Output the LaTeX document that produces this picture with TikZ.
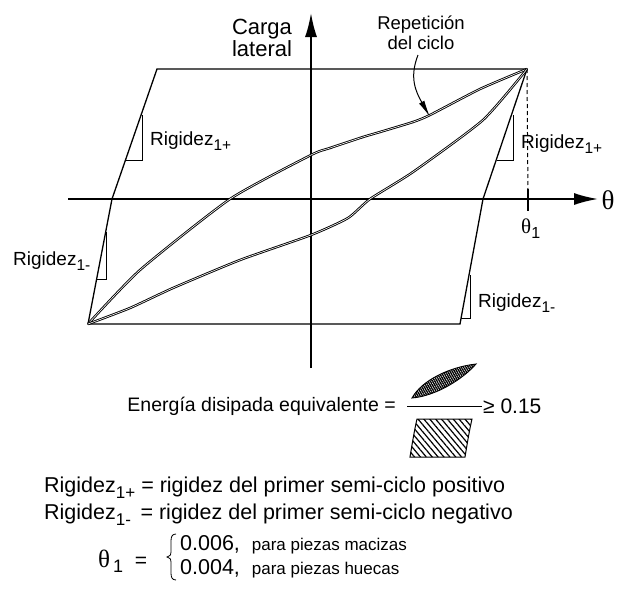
\documentclass[tikz,border=0pt]{standalone}
\usepackage{fontspec}
\setmainfont{Liberation Sans}
\newfontfamily\thetafont{Liberation Serif}
\usetikzlibrary{arrows.meta,patterns.meta}
\newcommand\fsz[1]{\fontsize{#1}{#1}\selectfont}
\newcommand\rigsmall[1]{Rigidez\raisebox{-5pt}{\fsz{15.5}#1}}
\newcommand\rigbig[1]{Rigidez\raisebox{-6pt}{\fsz{17}#1}}
\tikzset{
  axis/.style={line width=1.7pt,-{Latex[length=24pt,width=12pt]}},
  edge/.style={line width=1.3pt,line join=miter},
  dbl/.style={double,double distance=0.6pt,line width=0.9pt},
  tri/.style={line width=1pt},
  lbl/.style={inner sep=0pt,anchor=base west,font=\fsz{19}},
  txt/.style={inner sep=0pt,font=\fsz{21.5}},
}
\begin{document}
\begin{tikzpicture}[x=1pt,y=-1pt]
\useasboundingbox (0,0) rectangle (619,600);
% axes
\coordinate (yb) at (311,368); \coordinate (yt) at (311,13);
\coordinate (xl) at (68,199);  \coordinate (xr) at (598,199);
\draw[axis] (yb) -- (yt);
\draw[axis] (xl) -- (xr);
% outer loop
\coordinate (tl) at (157,69); \coordinate (pk) at (527,69);
\coordinate (rx) at (483,199); \coordinate (br) at (460,324);
\coordinate (bl) at (88,324); \coordinate (lx) at (112,199);
\draw[edge] (tl) -- (pk) -- (rx) -- (br) -- (bl) -- (lx) -- cycle;
% stiffness triangles
\draw[tri] (142,115) -- (142,160) -- (126,160);
\draw[tri] (513,115) -- (513,160) -- (497,160);
\draw[tri] (106,232) -- (106,279) -- (97,279);
\draw[tri] (470,275) -- (470,318) -- (461,318);
% inner loop
\draw[dbl] plot[smooth,tension=0.35] coordinates {(527,69) (480,89) (430,115) (413,122) (380,132) (363,137) (330,148) (311,155) (230,199) (140,270) (88,324)};
\draw[dbl] plot[smooth,tension=0.35] coordinates {(88,324) (130,308) (173,288) (240,260) (311,235) (348,218) (370,199) (413,172) (483,120) (527,69)};
% dashed theta1
\coordinate (t1) at (528,199);
\draw[line width=1pt,dash pattern=on 4pt off 3pt] (pk) -- (t1);
\draw[line width=1.3pt] (528,189) -- (528,211);
% axis labels
\node[inner sep=0pt,font=\fsz{22},align=center] (carga) at (262,38) {Carga\\[-0.1pt]lateral};
\node[inner sep=0pt] (theta) at (608,200) {\thetafont\fsz{27}θ};
\node[inner sep=0pt,anchor=base west] (th1) at (521,233) {\thetafont\fsz{21}θ\raisebox{-5pt}{\fontspec{Liberation Sans}\fsz{16}1}};
% stiffness labels
\node[lbl] (r1) at (150,145) {\rigsmall{1+}};
\node[lbl] (r2) at (521,148) {\rigsmall{1+}};
\node[lbl] (r3) at (13,265) {\rigsmall{1-}};
\node[lbl] (r4) at (478,307) {\rigsmall{1-}};
% repeticion
\node[inner sep=0pt,align=center,font=\fsz{18.5}] (rep) at (421,33) {Repetición\\[1pt]del ciclo};
\coordinate (rs) at (418,55); \coordinate (re) at (430,117);
\draw[line width=1pt,-{Latex[length=17pt,width=6pt]}] (rs) .. controls (409,78) and (416,92) .. (re);
% energy
\node[inner sep=0pt,anchor=base east,font=\fsz{19.5}] (en) at (396,411) {Energía disipada equivalente =};
\coordinate (fa) at (407,407); \coordinate (fb) at (482,407);
\draw[double,double distance=0.7pt,line width=0.7pt] (fa) -- (fb);
\node[inner sep=0pt,anchor=base west,font=\fsz{21}] (ge) at (483,413) {≥ 0.15};
\coordinate (la) at (412,398); \coordinate (lb) at (476,364);
\draw[line width=0.9pt,pattern={Lines[angle=-60,distance=2pt,line width=1.4pt]}]
  (la) .. controls (422,380) and (450,367) .. (lb) .. controls (463,379) and (436,396) .. cycle;
\draw[line width=1pt,pattern={Lines[angle=-50,distance=4.5pt,line width=1.2pt]}]
  (417,419) -- (472,419) .. controls (469,432) and (467,445) .. (465,457) -- (410,457) .. controls (412,445) and (414,432) .. cycle;
% definitions
\node[txt,anchor=base west] (d1) at (44,492) {\rigbig{1+} = rigidez del primer semi-ciclo positivo};
\node[txt,anchor=base west] (d2) at (44,519) {\rigbig{1-}\, = rigidez del primer semi-ciclo negativo};
\node[inner sep=0pt,anchor=base west] (d3) at (98,567) {\thetafont\fsz{25}θ\raisebox{-5pt}{\fontspec{Liberation Sans}\fsz{18}\,1}\fontspec{Liberation Sans}\fsz{21}\ \ =};
\draw[line width=0.8pt] (176,534) .. controls (172,534) and (171,537) .. (171,541) -- (171,552)
  .. controls (171,555) .. (167,557) .. controls (171,559) .. (171,562) -- (171,573)
  .. controls (171,577) and (172,580) .. (176,580);
\node[txt,anchor=base west] (v1) at (180,550) {0.006,\ \ {\fsz{17}para piezas macizas}};
\node[txt,anchor=base west] (v2) at (180,574) {0.004,\ \ {\fsz{17}para piezas huecas}};
\end{tikzpicture}
\end{document}
